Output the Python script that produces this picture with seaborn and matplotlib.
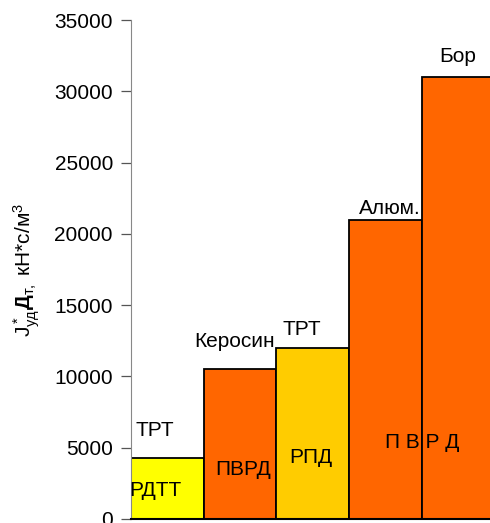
import numpy as np
import pandas as pd
import seaborn as sns
import matplotlib.pyplot as plt

# engine types and specific impulse * density values
engines = ['РДТТ', 'ПВРД', 'РПД', 'ПВРД-Al', 'ПВРД-B']
values = [4300, 10500, 12000, 21000, 31000]
bar_colors = ['#FFFF00', '#FF6600', '#FFCC00', '#FF6600', '#FF6600']

# text labels on the chart: (text, x, y)
labels = [('ТРТ', -0.17, 6200),
          ('РДТТ', -0.16, 2000),
          ('ПВРД', 1.04, 3450),
          ('Керосин', 0.93, 12460),
          ('ТРТ', 1.85, 13300),
          ('РПД', 1.97, 4300),
          ('Алюм.', 3.06, 21760),
          ('П В Р Д', 3.5, 5350),
          ('Бор', 3.99, 32460)]

sns.set_style('white')
plt.rcParams['font.family'] = ['Liberation Sans', 'DejaVu Sans']
plt.rcParams['mathtext.fontset'] = 'custom'
plt.rcParams['mathtext.rm'] = 'Liberation Sans'
plt.rcParams['mathtext.it'] = 'Liberation Sans'
plt.rcParams['mathtext.bf'] = 'Liberation Sans:bold'

df = pd.DataFrame({'engine': engines, 'value': values})

fig = plt.figure(figsize=(4.9, 5.23), dpi=100)
ax = fig.add_axes([131 / 490, 4 / 523, 1 - 131 / 490, 499 / 523])

sns.barplot(data=df, x='engine', y='value', hue='engine', palette=bar_colors,
            width=1.0, edgecolor='black', linewidth=1.3, legend=False,
            saturation=1, ax=ax)

ax.set_ylim(0, 35000)
ax.set_xlim(-0.5, 4.44)
ax.set_yticks(np.arange(0, 35001, 5000))
ax.tick_params(axis='y', labelsize=15, labelcolor='black', length=7, width=0.9,
               color='#555555', direction='out', left=True, pad=6)
ax.set_xticks([])
ax.set_xlabel('')
ax.set_ylabel(r'$\mathrm{J^*_{уд}}\mathbf{Д}\mathrm{_{т,}}$ кН*с/м$^3$', fontsize=15,
              labelpad=9, color='black')

for side in ['top', 'right']:
    ax.spines[side].set_visible(False)
ax.spines['left'].set_color('#888888')
ax.spines['bottom'].set_color('black')
ax.spines['bottom'].set_linewidth(1.5)

for txt, x, y in labels:
    ax.text(x, y, txt, ha='center', va='center', fontsize=15, color='black', clip_on=False)

fig.savefig('out.png', dpi=100)
